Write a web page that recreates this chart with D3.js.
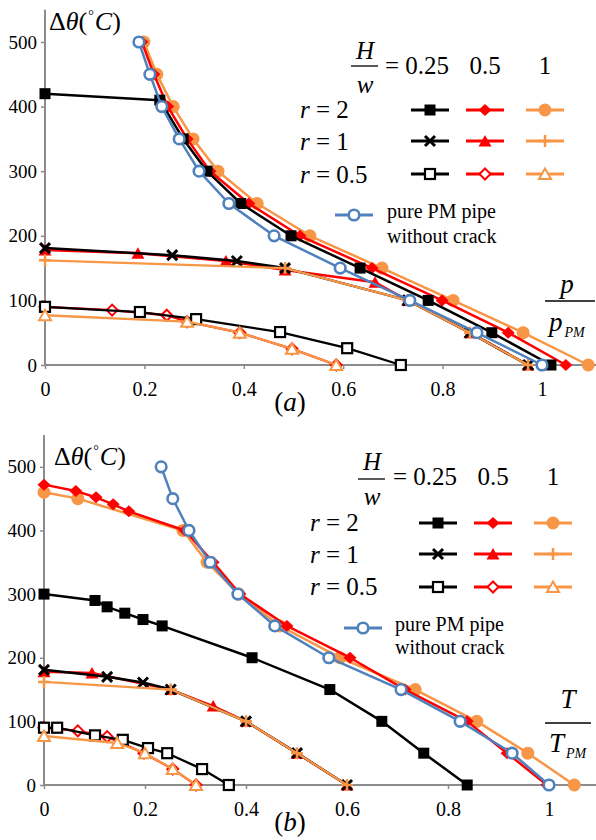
<!DOCTYPE html>
<html><head><meta charset="utf-8">
<script src="https://cdn.jsdelivr.net/npm/d3@7"></script>
<style>body{margin:0;background:#fff} svg{display:block}</style>
</head><body><svg id="c" width="596" height="840"></svg>
<script>
// ---------- DATA ----------
const thetaFull = [500,450,400,350,300,250,200,150,100,50,0];
const xTicks = [0,0.2,0.4,0.6,0.8,1];
const yTicks = [0,100,200,300,400,500];
const hwLabels = ["0.25","0.5","1"];
const rLabels = ["2","1","0.5"];

// panel (a): p/pPM
const aR2_025_x = [0,0.231,0.278,0.326,0.394,0.495,0.634,0.771,0.899,1.018];
const aR2_025_y = [420,410,350,300,250,200,150,100,50,0];
const aR2_05_x = [0.195,0.219,0.247,0.286,0.332,0.410,0.513,0.658,0.799,0.932,1.048];
const aR2_1_x  = [0.199,0.225,0.258,0.298,0.348,0.427,0.533,0.678,0.821,0.962,1.093];
const aR1_025_x = [0,0.256,0.386,0.483,0.730,0.855,0.972];
const aR1_025_y = [181,170,161,150,100,50,0];
const aR1_05_x = [0,0.187,0.364,0.483,0.664,0.730,0.855,0.972];
const aR1_05_y = [178,173,161,147,128,100,50,0];
const aR1_1_x = [0,0.483,0.730,0.855,0.972];
const aR1_1_y = [162,150,100,50,0];
const aR05_025_x = [0,0.191,0.304,0.473,0.608,0.716];
const aR05_025_y = [90,82,71,51,26,0];
const aR05_05_x = [0,0.135,0.245,0.286,0.392,0.497,0.586];
const aR05_05_y = [90,85,77,67,50,25,0];
const aR05_1_x = [0,0.286,0.392,0.497,0.586];
const aR05_1_y = [77,67,50,25,0];
const aBlue_x = [0.189,0.211,0.235,0.270,0.310,0.370,0.461,0.594,0.734,0.869,1.0];

// panel (b): T/TPM
const bR2_025_x = [0,0.101,0.125,0.160,0.196,0.234,0.412,0.566,0.669,0.752,0.838];
const bR2_025_y = [300,290,280,270,260,250,200,150,100,50,0];
const bR2_05_x = [0,0.063,0.103,0.137,0.168,0.279,0.335,0.388,0.481,0.606,0.715,0.838,0.917,0.996];
const bR2_05_y = [472,462,452,441,430,400,350,300,250,200,150,100,50,0];
const bR2_1_x = [0,0.067,0.275,0.323,0.386,0.467,0.586,0.735,0.857,0.958,1.05];
const bR2_1_y = [460,450,400,350,300,250,200,150,100,50,0];
const bR1_025_x = [0,0.125,0.196,0.251,0.40,0.501,0.6];
const bR1_025_y = [181,170,161,150,100,50,0];
const bR1_05_x = [0,0.095,0.251,0.335,0.40,0.501,0.6];
const bR1_05_y = [178,176,150,124,100,50,0];
const bR1_1_x = [0,0.251,0.40,0.501,0.6];
const bR1_1_y = [162,150,100,50,0];
const bR05_025_x = [0,0.026,0.101,0.156,0.206,0.244,0.313,0.366];
const bR05_025_y = [90,90,78,71,58,50,25,0];
const bR05_05_x = [0,0.067,0.125,0.198,0.255,0.301];
const bR05_05_y = [90,85,76,50,25,0];
const bR05_1_x = [0,0.145,0.2,0.255,0.301];
const bR05_1_y = [77,66,50,25,0];
const bBlue_x = [0.232,0.255,0.287,0.329,0.384,0.457,0.564,0.707,0.824,0.927,1.0];

// ---------- STYLE ----------
const FONT = "\"Liberation Serif\"";
const BLACK="#000", RED="#ff0000", ORANGE="#f79646", BLUE="#4f81bd", GRAY="#8c8c8c";
const styleOf = {
  r2_025:{c:BLACK,m:"sqF"}, r2_05:{c:RED,m:"diaF"}, r2_1:{c:ORANGE,m:"cirF"},
  r1_025:{c:BLACK,m:"x"},   r1_05:{c:RED,m:"triF"}, r1_1:{c:ORANGE,m:"plus"},
  r05_025:{c:BLACK,m:"sqO"},r05_05:{c:RED,m:"diaO"},r05_1:{c:ORANGE,m:"triO"},
  blue:{c:BLUE,m:"cirO"}
};
const zip=(xs,ys)=>xs.map((v,i)=>[v,ys[i]]);

const svg=d3.select("#c").attr("font-family",FONT);
svg.append("rect").attr("width",596).attr("height",840).attr("fill","#fff");

function marker(g,type,x,y,c){
  switch(type){
    case "sqF": g.append("rect").attr("x",x-5.5).attr("y",y-5.5).attr("width",11).attr("height",11).attr("fill",c); break;
    case "sqO": g.append("rect").attr("x",x-5).attr("y",y-5).attr("width",10).attr("height",10).attr("fill","#fff").attr("stroke",c).attr("stroke-width",2.2); break;
    case "diaF": g.append("path").attr("d",`M${x-6.5},${y}L${x},${y-6}L${x+6.5},${y}L${x},${y+6}Z`).attr("fill",c); break;
    case "diaO": g.append("path").attr("d",`M${x-5.5},${y}L${x},${y-5.5}L${x+5.5},${y}L${x},${y+5.5}Z`).attr("fill","#fff").attr("stroke",c).attr("stroke-width",2); break;
    case "cirF": g.append("circle").attr("cx",x).attr("cy",y).attr("r",6.5).attr("fill",c); break;
    case "cirO": g.append("circle").attr("cx",x).attr("cy",y).attr("r",5.3).attr("fill","#fff").attr("stroke",c).attr("stroke-width",2.6); break;
    case "triF": g.append("path").attr("d",`M${x-6.5},${y+5.5}L${x},${y-6}L${x+6.5},${y+5.5}Z`).attr("fill",c); break;
    case "triO": g.append("path").attr("d",`M${x-6},${y+5}L${x},${y-5.5}L${x+6},${y+5}Z`).attr("fill","#fff").attr("stroke",c).attr("stroke-width",2); break;
    case "x": g.append("path").attr("d",`M${x-5},${y-5}L${x+5},${y+5}M${x-5},${y+5}L${x+5},${y-5}`).attr("stroke",c).attr("stroke-width",3); break;
    case "plus": g.append("path").attr("d",`M${x-6},${y}L${x+6},${y}M${x},${y-6}L${x},${y+6}`).attr("stroke",c).attr("stroke-width",2.5); break;
  }
}

function italicText(g,x,y,size,parts,anchor){
  const t=g.append("text").attr("x",x).attr("y",y).attr("font-size",size).attr("font-family",FONT).attr("fill","#000").attr("text-anchor",anchor||"start");
  parts.forEach(p=>{
    const s=t.append("tspan").text(p.t);
    if(p.i) s.attr("font-style","italic");
    if(p.fs) s.attr("font-size",p.fs);
    if(p.dy!==undefined) s.attr("dy",p.dy);
    if(p.dx!==undefined) s.attr("dx",p.dx);
  });
  return t;
}
function plainText(g,x,y,size,str,anchor){
  return g.append("text").attr("x",x).attr("y",y).attr("font-size",size).attr("font-family",FONT).attr("fill","#000").attr("text-anchor",anchor||"start").text(str);
}

function panel(cfg){
  const g=svg.append("g");
  const x=d3.scaleLinear().domain([0,1]).range([cfg.x0,cfg.x1]);
  const y=d3.scaleLinear().domain([0,550]).range([cfg.yBase,cfg.yTop]);
  // axes
  const ya=g.append("g").attr("transform",`translate(${cfg.x0},0)`)
    .call(d3.axisLeft(y).tickValues(yTicks).tickSize(4).tickFormat(d3.format("d")));
  ya.attr("font-family",FONT);
  ya.select(".domain").remove();
  ya.selectAll("line").attr("stroke",GRAY).attr("stroke-width",1.5);
  ya.selectAll("text").attr("font-size",19).attr("font-family",FONT).attr("x",-8).attr("fill","#000");
  const xa=g.append("g").attr("transform",`translate(0,${cfg.yBase})`)
    .call(d3.axisBottom(x).tickValues(xTicks).tickSize(4).tickFormat(d=>String(d)));
  xa.attr("font-family",FONT);
  xa.select(".domain").remove();
  xa.selectAll("line").attr("stroke",GRAY).attr("stroke-width",1.5);
  xa.selectAll("text").attr("font-size",20).attr("font-family",FONT).attr("dy",null).attr("y",31).attr("fill","#000");
  g.append("line").attr("x1",cfg.x0).attr("x2",cfg.x0).attr("y1",cfg.yTop).attr("y2",cfg.yBase).attr("stroke",GRAY).attr("stroke-width",2);
  g.append("line").attr("x1",cfg.x0).attr("x2",596).attr("y1",cfg.yBase).attr("y2",cfg.yBase).attr("stroke",GRAY).attr("stroke-width",2);

  const line=d3.line().x(d=>x(d[0])).y(d=>y(d[1]));
  cfg.series.forEach(s=>{
    const st=styleOf[s.k];
    g.append("path").attr("d",line(s.d)).attr("fill","none").attr("stroke",st.c).attr("stroke-width",s.k==="r1_1"||s.k.startsWith("r05")?2.3:2.5).attr("stroke-linejoin","round");
    s.d.forEach(p=>marker(g,st.m,x(p[0]),y(p[1]),st.c));
  });

  // y title
  italicText(g,cfg.tx,cfg.ty,26,[{t:"Δ"},{t:"θ",i:true},{t:"("},{t:"°",fs:14,dy:-10,dx:1},{t:"C",i:true,dy:10,dx:1},{t:")"}]);

  // legend
  const L=cfg.leg;
  italicText(g,L.hx,L.hy,25,[{t:"H",i:true}],"middle");
  g.append("line").attr("x1",L.hx-14).attr("x2",L.hx+13).attr("y1",L.fy).attr("y2",L.fy).attr("stroke","#000").attr("stroke-width",1.3);
  italicText(g,L.hx,L.wy,25,[{t:"w",i:true}],"middle");
  plainText(g,L.eqx,L.eqy,25,"= "+hwLabels[0]);
  plainText(g,L.cols[1],L.eqy,25,hwLabels[1],"middle");
  plainText(g,L.cols[2],L.eqy,25,hwLabels[2],"middle");
  const keys=[["r2_025","r2_05","r2_1"],["r1_025","r1_05","r1_1"],["r05_025","r05_05","r05_1"]];
  keys.forEach((row,i)=>{
    italicText(g,L.rx,L.rBase[i],25,[{t:"r",i:true},{t:" = "+rLabels[i]}]);
    row.forEach((k,j)=>{
      const st=styleOf[k], cx=L.cols[j], cy=L.my[i];
      g.append("line").attr("x1",cx-19).attr("x2",cx+19).attr("y1",cy).attr("y2",cy).attr("stroke",st.c).attr("stroke-width",3);
      marker(g,st.m,cx,cy,st.c);
    });
  });
  g.append("line").attr("x1",L.bx-19).attr("x2",L.bx+19).attr("y1",L.by).attr("y2",L.by).attr("stroke",BLUE).attr("stroke-width",3);
  marker(g,"cirO",L.bx,L.by,BLUE);
  plainText(g,L.btx,L.bty1,20,"pure PM pipe");
  plainText(g,L.btx,L.bty2,20,"without crack");

  // x title
  const X=cfg.xt;
  italicText(g,X.cx,X.y1,27,[{t:X.sym,i:true}],"middle");
  g.append("line").attr("x1",X.lx1).attr("x2",X.lx2).attr("y1",X.ly).attr("y2",X.ly).attr("stroke","#000").attr("stroke-width",1.3);
  italicText(g,X.bx,X.y2,27,[{t:X.sym,i:true},{t:"PM",i:true,fs:14,dy:6,dx:2}]);
  // panel label
  italicText(g,290,cfg.labY,27,[{t:"("},{t:cfg.lab,i:true},{t:")"}],"middle");
}

panel({
  x0:45,x1:542,yBase:365,yTop:9.7,tx:49,ty:30,lab:"a",labY:411,
  series:[
    {k:"r05_05",d:zip(aR05_05_x,aR05_05_y)},{k:"r05_025",d:zip(aR05_025_x,aR05_025_y)},{k:"r05_1",d:zip(aR05_1_x,aR05_1_y)},
    {k:"r1_05",d:zip(aR1_05_x,aR1_05_y)},{k:"r1_025",d:zip(aR1_025_x,aR1_025_y)},{k:"r1_1",d:zip(aR1_1_x,aR1_1_y)},
    {k:"r2_1",d:zip(aR2_1_x,thetaFull)},{k:"r2_05",d:zip(aR2_05_x,thetaFull)},{k:"r2_025",d:zip(aR2_025_x,aR2_025_y)},
    {k:"blue",d:zip(aBlue_x,thetaFull)}
  ],
  leg:{hx:365,hy:59,fy:66,wy:93,eqx:385,eqy:74,cols:[430,485,545],rx:300,rBase:[118,150,183],my:[110,141,174],
       bx:354,by:215,btx:387,bty1:218,bty2:243},
  xt:{sym:"p",cx:567,y1:293,lx1:545,lx2:595,ly:301,bx:549,y2:331}
});
panel({
  x0:44,x1:549,yBase:785,yTop:435,tx:54,ty:465,lab:"b",labY:831,
  series:[
    {k:"r05_05",d:zip(bR05_05_x,bR05_05_y)},{k:"r05_025",d:zip(bR05_025_x,bR05_025_y)},{k:"r05_1",d:zip(bR05_1_x,bR05_1_y)},
    {k:"r1_05",d:zip(bR1_05_x,bR1_05_y)},{k:"r1_025",d:zip(bR1_025_x,bR1_025_y)},{k:"r1_1",d:zip(bR1_1_x,bR1_1_y)},
    {k:"r2_025",d:zip(bR2_025_x,bR2_025_y)},{k:"r2_1",d:zip(bR2_1_x,bR2_1_y)},{k:"r2_05",d:zip(bR2_05_x,bR2_05_y)},
    {k:"blue",d:zip(bBlue_x,thetaFull)}
  ],
  leg:{hx:372,hy:470,fy:479,wy:505,eqx:393,eqy:485,cols:[438,493,553],rx:310,rBase:[531,563,595],my:[523,554,587],
       bx:363,by:628,btx:395,bty1:631,bty2:654},
  xt:{sym:"T",cx:568,y1:708,lx1:545,lx2:591,ly:723,bx:549,y2:752}
});
</script></body></html>
